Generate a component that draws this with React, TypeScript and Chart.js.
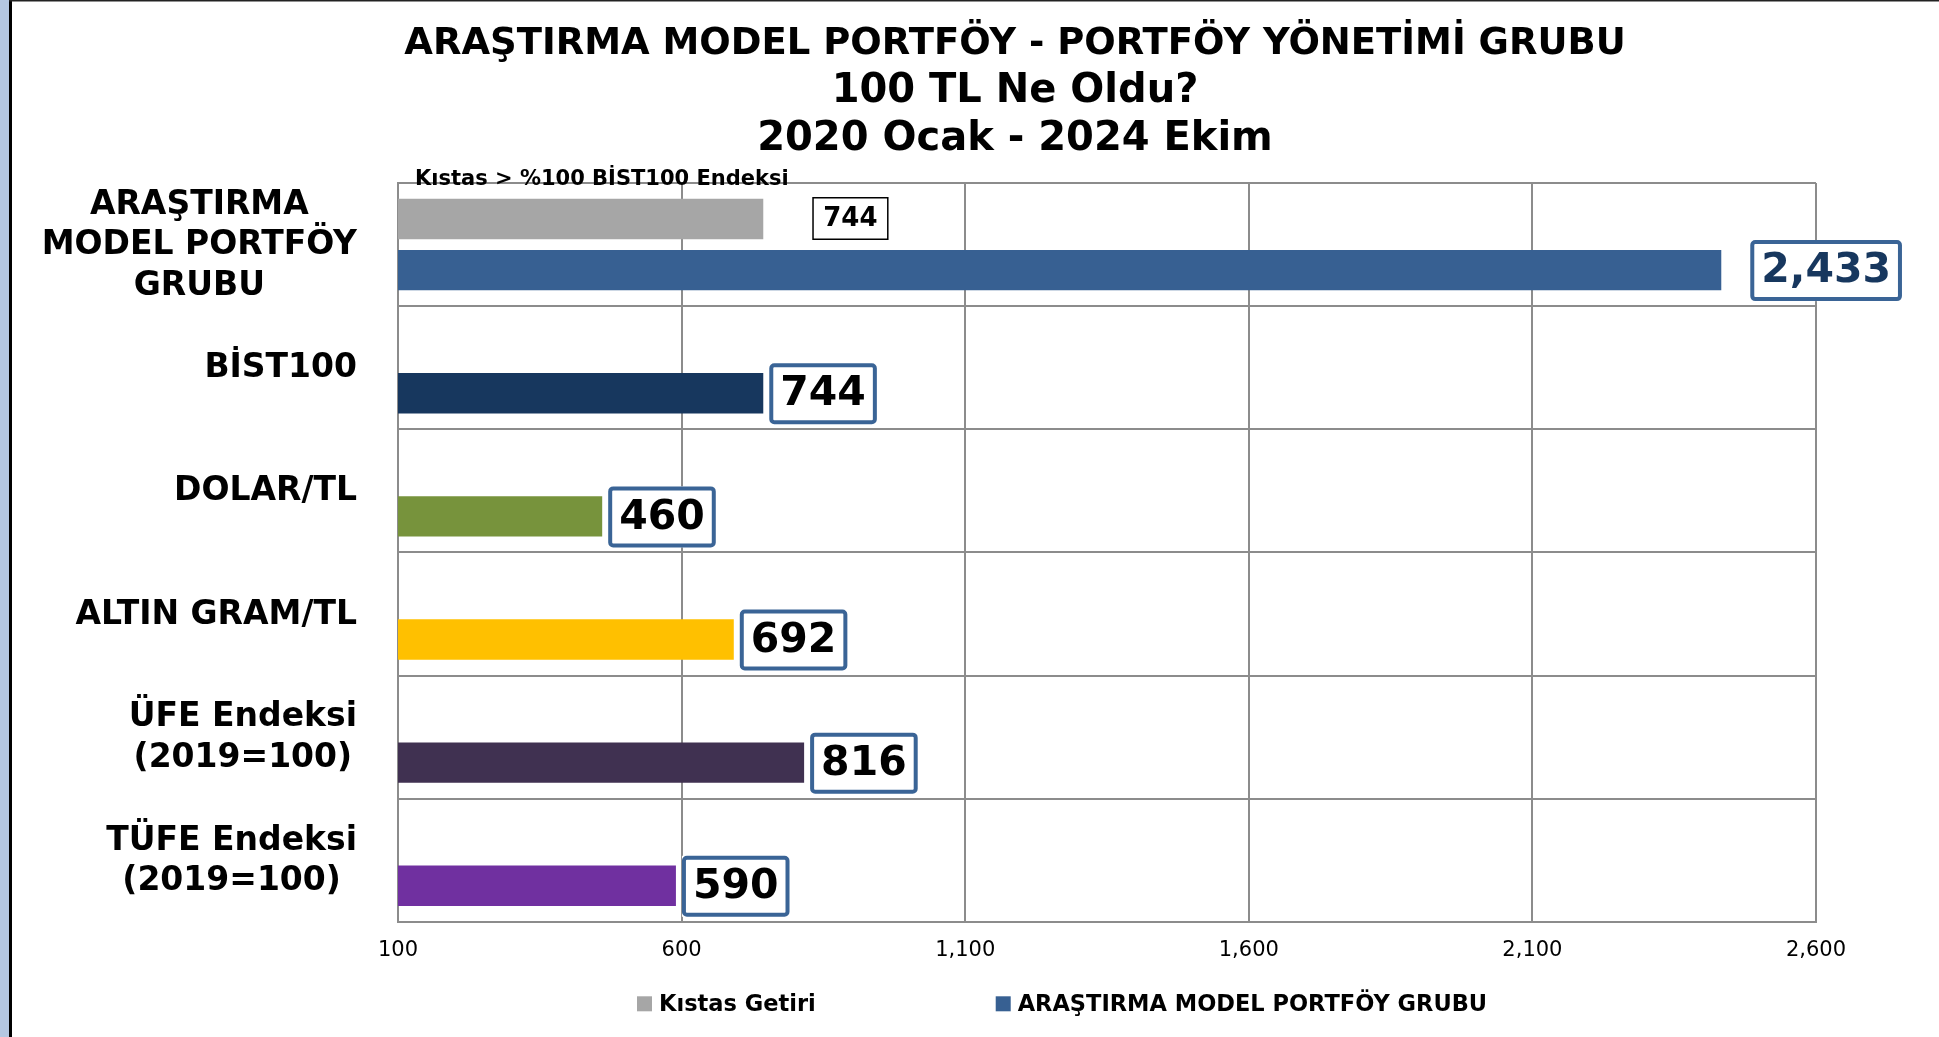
import { useEffect, useRef } from "react";
import { Chart, registerables } from "chart.js";

Chart.register(...registerables);

// ---------- data ----------
const categories: string[][] = [
  ["ARAŞTIRMA", "MODEL PORTFÖY", "GRUBU"],
  ["BİST100"],
  ["DOLAR/TL"],
  ["ALTIN GRAM/TL"],
  ["ÜFE Endeksi", "(2019=100)"],
  ["TÜFE Endeksi", "(2019=100)"],
];
const seriesNames = ["Kıstas Getiri", "ARAŞTIRMA MODEL PORTFÖY GRUBU"];
const benchmarkValues: (number | null)[] = [744, null, null, null, null, null];
const portfolioValues: number[] = [2433, 744, 460, 692, 816, 590];
const xTickValues = [100, 600, 1100, 1600, 2100, 2600];
const titleText = "ARAŞTIRMA MODEL PORTFÖY - PORTFÖY YÖNETİMİ GRUBU";
const subtitleLines = ["100 TL Ne Oldu?", "2020 Ocak - 2024 Ekim"];
const benchmarkNote = "Kıstas > %100 BİST100 Endeksi";

// ---------- styles ----------
const FONT = '"DejaVu Sans", Verdana, sans-serif';
const benchmarkColor = "#A6A6A6";
const barColors = ["#376092", "#17375E", "#77933C", "#FFC000", "#403151", "#7030A0"];
const gridColor = "#8C8C8C";
const labelBorder = "#3A6496";
const labelGaps = [29, 6, 6, 6, 6, 6];

function fmt(v: number) {
  return v.toLocaleString("en-US");
}

function drawBox(
  ctx: CanvasRenderingContext2D,
  text: string,
  x: number,
  cy: number,
  font: string,
  padX: number,
  h: number,
  border: number,
  borderColor: string,
  textColor: string
) {
  ctx.font = font;
  const tw = ctx.measureText(text).width;
  const w = tw + 2 * padX;
  ctx.fillStyle = "#ffffff";
  ctx.fillRect(x, cy - h / 2, w, h);
  ctx.lineWidth = border;
  ctx.strokeStyle = borderColor;
  ctx.beginPath();
  if ((ctx as any).roundRect) {
    (ctx as any).roundRect(x + border / 2, cy - h / 2 + border / 2, w - border, h - border, border > 2 ? 3 : 0);
  } else {
    ctx.rect(x + border / 2, cy - h / 2 + border / 2, w - border, h - border);
  }
  ctx.stroke();
  ctx.fillStyle = textColor;
  ctx.textAlign = "center";
  ctx.textBaseline = "middle";
  ctx.fillText(text, x + w / 2, cy + 1);
}

const overlayPlugin = {
  id: "overlay",
  beforeDraw(chart: any) {
    const ctx = chart.ctx as CanvasRenderingContext2D;
    ctx.save();
    ctx.fillStyle = "#ffffff";
    ctx.fillRect(0, 0, chart.width, chart.height);
    ctx.fillStyle = "#B4C7E1";
    ctx.fillRect(0, 0, 9, chart.height);
    ctx.fillStyle = "#000000";
    ctx.fillRect(9, 0, 3, chart.height);
    ctx.fillStyle = "#222222";
    ctx.fillRect(9, 0, chart.width - 9, 1.5);
    ctx.restore();
  },
  afterDraw(chart: any) {
    const ctx = chart.ctx as CanvasRenderingContext2D;
    const a = chart.chartArea;
    const yScale = chart.scales.y;
    ctx.save();

    // category labels: block right-aligned, lines centred within block
    ctx.font = `bold 33px ${FONT}`;
    ctx.fillStyle = "#000000";
    ctx.textAlign = "center";
    ctx.textBaseline = "middle";
    const right = a.left - 41;
    const lh = 40.5;
    (chart.data.labels as string[][]).forEach((lines, i) => {
      const cy = yScale.getPixelForTick(i) + 1;
      const w = Math.max(...lines.map((l) => ctx.measureText(l).width));
      const cx = right - w / 2;
      lines.forEach((l, j) => ctx.fillText(l, cx, cy + (j - (lines.length - 1) / 2) * lh));
    });

    // benchmark note
    ctx.font = `bold 21px ${FONT}`;
    ctx.textAlign = "left";
    ctx.textBaseline = "alphabetic";
    ctx.fillStyle = "#000000";
    ctx.fillText(benchmarkNote, a.left + 17, a.top + 2);

    // data labels
    const meta0 = chart.getDatasetMeta(0);
    meta0.data.forEach((el: any, i: number) => {
      const v = chart.data.datasets[0].data[i];
      if (v == null) return;
      drawBox(ctx, fmt(v), el.x + 49, el.y - 0.5, `bold 26px ${FONT}`, 11, 43, 1.5, "#000000", "#000000");
    });
    const meta1 = chart.getDatasetMeta(1);
    meta1.data.forEach((el: any, i: number) => {
      const v = chart.data.datasets[1].data[i];
      if (v == null) return;
      drawBox(
        ctx,
        fmt(v),
        el.x + labelGaps[i],
        el.y + 0.5,
        `bold 41px ${FONT}`,
        11,
        61,
        4,
        labelBorder,
        i === 0 ? "#17375E" : "#000000"
      );
    });

    // legend
    ctx.font = `bold 22.5px ${FONT}`;
    ctx.textBaseline = "middle";
    ctx.textAlign = "left";
    const ly = a.bottom + 82;
    let lx = a.left + 239;
    const legendColors = [benchmarkColor, barColors[0]];
    chart.data.datasets.forEach((ds: any, i: number) => {
      ctx.fillStyle = legendColors[i];
      ctx.fillRect(lx, ly - 7.5, 15, 15);
      lx += 22;
      ctx.fillStyle = "#000000";
      ctx.fillText(ds.label, lx, ly + 1);
      lx += ctx.measureText(ds.label).width + 180;
    });

    ctx.restore();
  },
};

export default function App() {
  const ref = useRef<HTMLCanvasElement>(null);

  useEffect(() => {
    document.body.style.margin = "0";
    document.body.style.overflow = "hidden";
    Chart.defaults.font.family = FONT;
    const chart = new Chart(ref.current as HTMLCanvasElement, {
      type: "bar",
      data: {
        labels: categories,
        datasets: [
          {
            label: seriesNames[0],
            data: benchmarkValues,
            backgroundColor: benchmarkColor,
            borderWidth: 0,
            categoryPercentage: 0.83,
            barPercentage: 0.79,
          },
          {
            label: seriesNames[1],
            data: portfolioValues,
            backgroundColor: barColors,
            borderWidth: 0,
            categoryPercentage: 0.83,
            barPercentage: 0.79,
          },
        ],
      },
      options: {
        indexAxis: "y",
        responsive: false,
        animation: false,
        locale: "en-US",
        layout: { padding: { left: 214, right: 123, top: 0, bottom: 58 } },
        plugins: {
          legend: { display: false },
          tooltip: { enabled: false },
          title: {
            display: true,
            text: titleText,
            color: "#000000",
            font: { family: FONT, size: 37, weight: "bold" },
            padding: { top: 22, bottom: 0 },
          },
          subtitle: {
            display: true,
            text: subtitleLines,
            color: "#000000",
            font: { family: FONT, size: 40, weight: "bold" },
            padding: { top: 1.6, bottom: 19 },
          },
        },
        scales: {
          x: {
            type: "linear",
            min: 100,
            max: 2600,
            afterBuildTicks: (scale: any) => {
              scale.ticks = xTickValues.map((v) => ({ value: v }));
            },
            ticks: {
              color: "#000000",
              font: { family: FONT, size: 21 },
              padding: 16,
              maxRotation: 0,
              callback: (v: any) => fmt(Number(v)),
            },
            grid: { color: gridColor, lineWidth: 2, drawTicks: false },
            border: { color: gridColor, width: 2 },
          },
          y: {
            type: "category",
            ticks: { display: false },
            grid: { color: gridColor, lineWidth: 2, drawTicks: false },
            border: { color: gridColor, width: 2 },
            afterFit: (scale: any) => {
              scale.width = 184;
            },
          },
        },
      },
      plugins: [overlayPlugin],
    } as any);
    return () => chart.destroy();
  }, []);

  return (
    <div style={{ width: 1939, height: 1037 }}>
      <canvas ref={ref} width={1939} height={1037} style={{ display: "block", width: 1939, height: 1037 }} />
    </div>
  );
}
